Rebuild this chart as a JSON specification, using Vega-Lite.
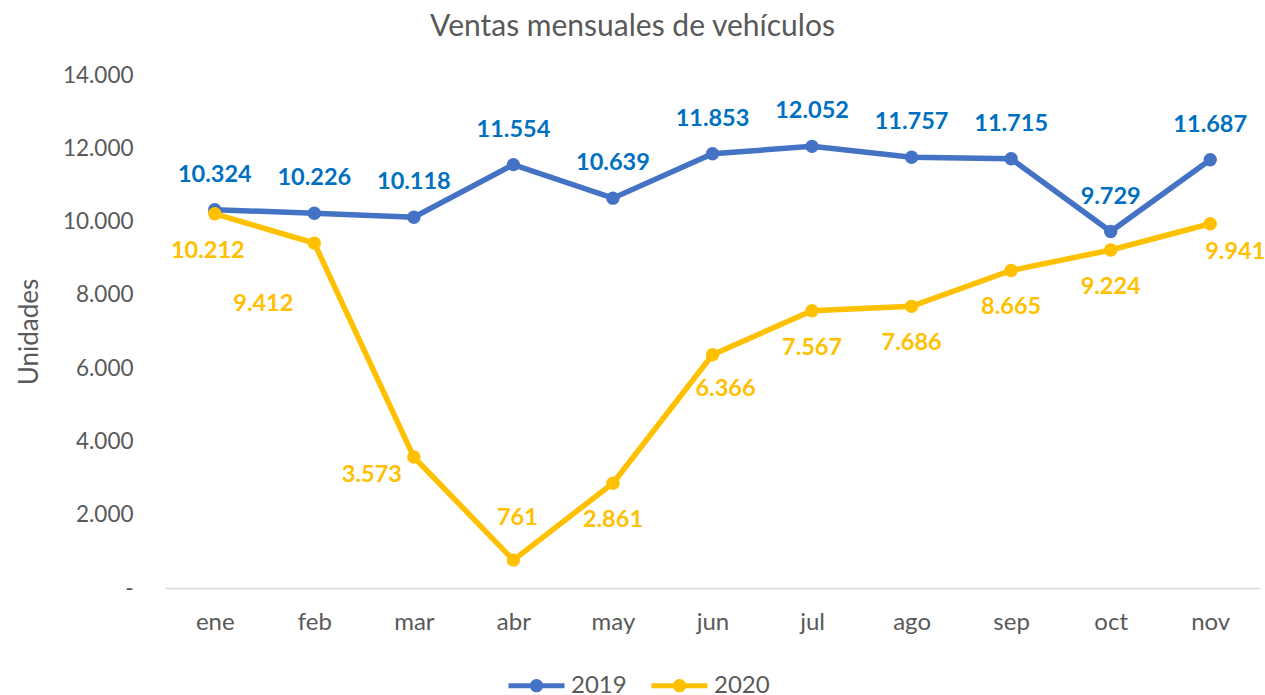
{
  "$schema": "https://vega.github.io/schema/vega-lite/v6.json",
  "width": 1095,
  "height": 513,
  "autosize": {"type": "none"},
  "padding": {"left": 165, "top": 75, "right": 5, "bottom": 107},
  "background": "white",
  "config": {
    "locale": {"number": {"decimal": ",", "thousands": ".", "grouping": [3], "currency": ["", " €"]}},
    "font": "Lato",
    "view": {"stroke": null},
    "axis": {"labelFont": "Lato", "titleFont": "Lato", "labelColor": "#595959", "titleColor": "#595959"}
  },
  "title": {
    "text": "Ventas mensuales de vehículos",
    "fontSize": 30,
    "fontWeight": "normal",
    "color": "#595959",
    "font": "Lato",
    "anchor": "middle",
    "dx": -80,
    "offset": 22
  },
  "data": {
    "values": [
      {"mes": "ene", "anio": "2019", "ventas": 10324},
      {"mes": "feb", "anio": "2019", "ventas": 10226},
      {"mes": "mar", "anio": "2019", "ventas": 10118},
      {"mes": "abr", "anio": "2019", "ventas": 11554},
      {"mes": "may", "anio": "2019", "ventas": 10639},
      {"mes": "jun", "anio": "2019", "ventas": 11853},
      {"mes": "jul", "anio": "2019", "ventas": 12052},
      {"mes": "ago", "anio": "2019", "ventas": 11757},
      {"mes": "sep", "anio": "2019", "ventas": 11715},
      {"mes": "oct", "anio": "2019", "ventas": 9729},
      {"mes": "nov", "anio": "2019", "ventas": 11687},
      {"mes": "ene", "anio": "2020", "ventas": 10212},
      {"mes": "feb", "anio": "2020", "ventas": 9412},
      {"mes": "mar", "anio": "2020", "ventas": 3573},
      {"mes": "abr", "anio": "2020", "ventas": 761},
      {"mes": "may", "anio": "2020", "ventas": 2861},
      {"mes": "jun", "anio": "2020", "ventas": 6366},
      {"mes": "jul", "anio": "2020", "ventas": 7567},
      {"mes": "ago", "anio": "2020", "ventas": 7686},
      {"mes": "sep", "anio": "2020", "ventas": 8665},
      {"mes": "oct", "anio": "2020", "ventas": 9224},
      {"mes": "nov", "anio": "2020", "ventas": 9941}
    ]
  },
  "encoding": {
    "x": {
      "field": "mes",
      "type": "ordinal",
      "sort": ["ene","feb","mar","abr","may","jun","jul","ago","sep","oct","nov"],
      "scale": {"type": "point", "padding": 0.5},
      "axis": {
        "title": null,
        "labelAngle": 0,
        "labelFontSize": 24,
        "labelPadding": 22,
        "ticks": false,
        "domain": true,
        "domainColor": "#D9D9D9",
        "domainWidth": 1.5,
        "grid": false
      }
    },
    "y": {
      "field": "ventas",
      "type": "quantitative",
      "scale": {"domain": [0, 14000], "nice": false},
      "axis": {
        "title": "Unidades",
        "titleFontSize": 26,
        "titleFontWeight": "normal",
        "titlePadding": 20,
        "values": [0, 2000, 4000, 6000, 8000, 10000, 12000, 14000],
        "format": ",d",
        "labelExpr": "datum.value === 0 ? '-\u00a0\u00a0' : datum.label",
        "labelFontSize": 22.5,
        "labelPadding": 32,
        "ticks": false,
        "domain": false,
        "grid": false
      }
    }
  },
  "layer": [
    {
      "mark": {"type": "line", "strokeWidth": 5.5, "point": {"size": 180, "filled": true, "opacity": 1}},
      "encoding": {
        "color": {
          "field": "anio",
          "type": "nominal",
          "scale": {"domain": ["2019", "2020"], "range": ["#4472C4", "#FFC000"]},
          "legend": {
            "title": null,
            "orient": "none",
            "legendX": 341,
            "legendY": 580,
            "direction": "horizontal",
            "labelFontSize": 24,
            "labelColor": "#595959",
            "labelFont": "Lato",
            "symbolType": "M-1,0L1,0M0.15,0A0.15,0.15 0 1,1 -0.15,0A0.15,0.15 0 1,1 0.15,0Z",
            "symbolSize": 3136,
            "symbolStrokeWidth": 5,
            "symbolOpacity": 1,
            "columnPadding": 14,
            "labelOffset": 4,
            "encode": {"symbols": {"update": {"fill": {"scale": "color", "field": "value"}, "stroke": {"scale": "color", "field": "value"}}}}
          }
        }
      }
    },
    {
      "transform": [{"filter": "datum.anio === '2019'"}],
      "mark": {"type": "text", "dy": -35, "fontSize": 23.5, "fontWeight": "bold", "color": "#0070C0"},
      "encoding": {"text": {"field": "ventas", "type": "quantitative", "format": ",d"}}
    },
    {
      "transform": [{"filter": "datum.anio === '2020' && indexof(['may','jul','ago','sep','oct'], datum.mes) >= 0"}],
      "mark": {"type": "text", "dy": 37, "fontSize": 23.5, "fontWeight": "bold", "color": "#FFC000"},
      "encoding": {"text": {"field": "ventas", "type": "quantitative", "format": ",d"}}
    },
    {
      "transform": [{"filter": "datum.anio === '2020' && datum.mes === 'ene'"}],
      "mark": {"type": "text", "dx": -7, "dy": 37, "fontSize": 23.5, "fontWeight": "bold", "color": "#FFC000"},
      "encoding": {"text": {"field": "ventas", "type": "quantitative", "format": ",d"}}
    },
    {
      "transform": [{"filter": "datum.anio === '2020' && datum.mes === 'feb'"}],
      "mark": {"type": "text", "dx": -51, "dy": 61, "fontSize": 23.5, "fontWeight": "bold", "color": "#FFC000"},
      "encoding": {"text": {"field": "ventas", "type": "quantitative", "format": ",d"}}
    },
    {
      "transform": [{"filter": "datum.anio === '2020' && datum.mes === 'mar'"}],
      "mark": {"type": "text", "dx": -42, "dy": 18, "fontSize": 23.5, "fontWeight": "bold", "color": "#FFC000"},
      "encoding": {"text": {"field": "ventas", "type": "quantitative", "format": ",d"}}
    },
    {
      "transform": [{"filter": "datum.anio === '2020' && datum.mes === 'abr'"}],
      "mark": {"type": "text", "dx": 4, "dy": -42, "fontSize": 23.5, "fontWeight": "bold", "color": "#FFC000"},
      "encoding": {"text": {"field": "ventas", "type": "quantitative", "format": ",d"}}
    },
    {
      "transform": [{"filter": "datum.anio === '2020' && datum.mes === 'jun'"}],
      "mark": {"type": "text", "dx": 13, "dy": 34, "fontSize": 23.5, "fontWeight": "bold", "color": "#FFC000"},
      "encoding": {"text": {"field": "ventas", "type": "quantitative", "format": ",d"}}
    },
    {
      "transform": [{"filter": "datum.anio === '2020' && datum.mes === 'nov'"}],
      "mark": {"type": "text", "dx": 25, "dy": 28, "fontSize": 23.5, "fontWeight": "bold", "color": "#FFC000"},
      "encoding": {"text": {"field": "ventas", "type": "quantitative", "format": ",d"}}
    }
  ]
}
